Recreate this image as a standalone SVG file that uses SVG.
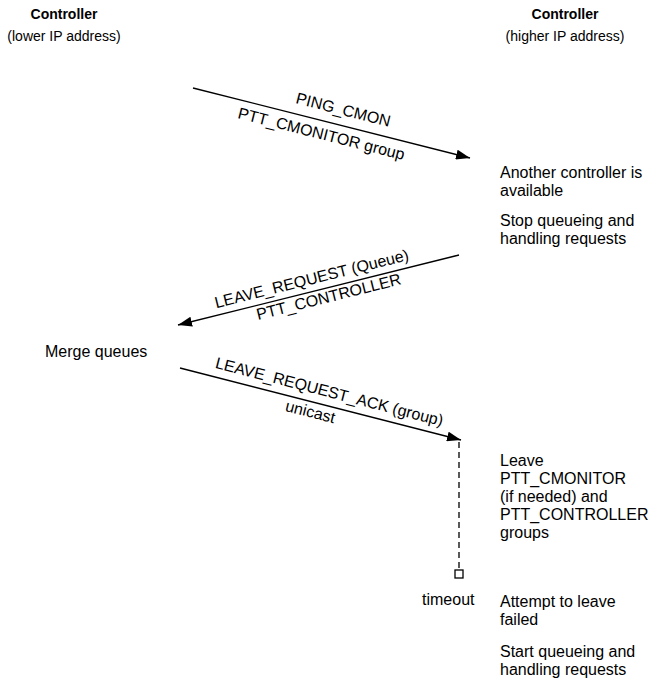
<svg xmlns="http://www.w3.org/2000/svg" width="651" height="690" viewBox="0 0 651 690">
  <style>
    text { font-family: "Liberation Sans", Arial, sans-serif; font-size: 16px; fill: #000; }
    .head { font-size: 14px; }
    .bold { font-weight: bold; }
    .mid { text-anchor: middle; }
    .msg { stroke: #000; stroke-width: 1.3; fill: none; }
    .dash { stroke: #000; stroke-width: 1.3; stroke-dasharray: 6 4; fill: none; }
  </style>
  <defs>
    <marker id="arrow" viewBox="0 0 14 10" refX="14" refY="5" markerWidth="14" markerHeight="10" markerUnits="userSpaceOnUse" orient="auto">
      <path d="M0,0 L14,5 L0,10 Z" fill="#000"/>
    </marker>
  </defs>

  <!-- lifeline headings -->
  <g id="ctrl-low">
    <text class="head bold mid" x="64" y="19">Controller</text>
    <text class="head mid" x="64" y="41">(lower IP address)</text>
  </g>
  <g id="ctrl-high">
    <text class="head bold mid" x="565" y="19">Controller</text>
    <text class="head mid" x="565" y="41">(higher IP address)</text>
  </g>

  <!-- messages -->
  <g id="connectors">
    <line class="msg" x1="193" y1="88" x2="470" y2="158" marker-end="url(#arrow)"/>
    <line class="msg" x1="459" y1="255" x2="178" y2="325" marker-end="url(#arrow)"/>
    <line class="msg" x1="180" y1="368" x2="461" y2="440" marker-end="url(#arrow)"/>
    <line class="dash" x1="459" y1="442" x2="459" y2="570"/>
    <rect x="455" y="570" width="8" height="8" fill="#fff" stroke="#000" stroke-width="1.3"/>
  </g>

  <!-- message labels -->
  <g id="msg-ping">
    <text class="mid" transform="translate(342,115) rotate(14.2)">PING_CMON</text>
    <text class="mid" transform="translate(320,139) rotate(14.2)">PTT_CMONITOR group</text>
  </g>
  <g id="msg-leave">
    <text class="mid" transform="translate(313,284) rotate(-14)">LEAVE_REQUEST (Queue)</text>
    <text class="mid" transform="translate(330,302) rotate(-14)">PTT_CONTROLLER</text>
  </g>
  <g id="msg-ack">
    <text class="mid" transform="translate(328,397) rotate(14.4)">LEAVE_REQUEST_ACK (group)</text>
    <text class="mid" transform="translate(309,417) rotate(14.4)">unicast</text>
  </g>

  <!-- state notes -->
  <g id="note-available">
    <text x="500" y="178">Another controller is</text>
    <text x="500" y="196">available</text>
  </g>
  <g id="note-stop">
    <text x="500" y="226">Stop queueing and</text>
    <text x="500" y="244">handling requests</text>
  </g>
  <g id="note-merge">
    <text x="45" y="357">Merge queues</text>
  </g>
  <g id="note-leave">
    <text x="500" y="466">Leave</text>
    <text x="500" y="484">PTT_CMONITOR</text>
    <text x="500" y="502">(if needed) and</text>
    <text x="500" y="520">PTT_CONTROLLER</text>
    <text x="500" y="538">groups</text>
  </g>
  <g id="note-timeout">
    <text x="422" y="605">timeout</text>
  </g>
  <g id="note-failed">
    <text x="500" y="607">Attempt to leave</text>
    <text x="500" y="625">failed</text>
  </g>
  <g id="note-start">
    <text x="500" y="657">Start queueing and</text>
    <text x="500" y="675">handling requests</text>
  </g>
</svg>
